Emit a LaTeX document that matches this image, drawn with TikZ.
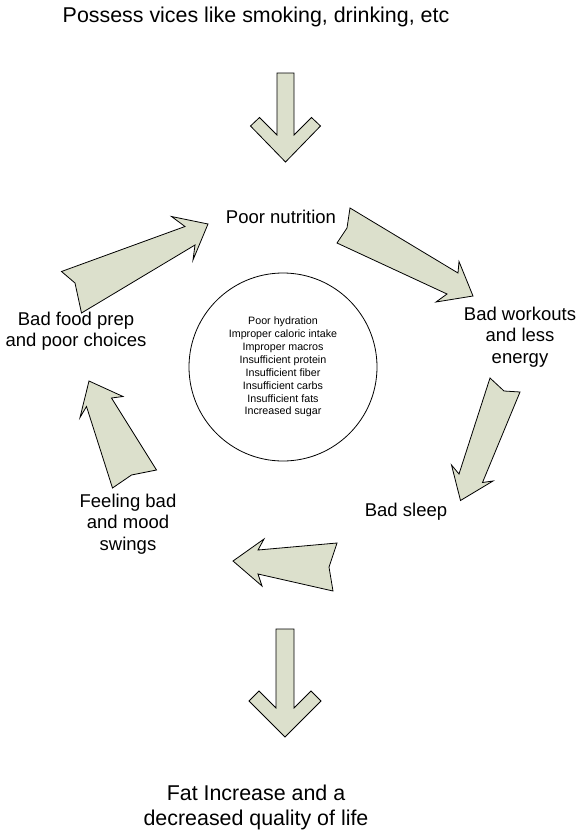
\documentclass[tikz,border=0pt]{standalone}
\usepackage{fontspec}
\setmainfont{Liberation Sans}
\definecolor{sage}{RGB}{220,224,204}
\tikzset{
  blockarrow/.style={fill=sage, draw=black, line width=0.8pt, line join=miter},
  lbl/.style={font=\fontsize{18.5}{21.3}\selectfont, align=center, inner sep=0pt},
  bigtext/.style={font=\fontsize{21.4}{25}\selectfont, align=center, inner sep=0pt},
  causes/.style={circle, draw=black, line width=0.8pt, minimum size=188pt, inner sep=0pt,
    font=\fontsize{10.7}{12.9}\selectfont, align=center}
}
\begin{document}
\begin{tikzpicture}[x=1pt,y=-1pt]
  \useasboundingbox (0,0) rectangle (582,838);

  % texts
  \node[bigtext] (vices) at (256,17) {Possess vices like smoking, drinking, etc};
  \node[lbl] (nutrition) at (281,217) {Poor nutrition};
  \node[lbl] (workouts) at (520,337) {Bad workouts\\and less\\energy};
  \node[lbl] (sleep) at (406,512) {Bad sleep};
  \node[lbl] (mood) at (128,524) {Feeling bad\\and mood\\swings};
  \node[lbl] (foodprep) at (76,331) {Bad food prep\\and poor choices};
  \node[bigtext] (result) at (256,807) {Fat Increase and a\\decreased quality of life};

  \node[causes] (list) at (283,367) {Poor hydration\\Improper caloric intake\\Improper macros\\
    Insufficient protein\\Insufficient fiber\\Insufficient carbs\\Insufficient fats\\Increased sugar};

  % block arrows
  \draw[blockarrow] (277,73) -- (294,73) -- (294,135) -- (311.5,117.5) -- (320.5,126)
    -- (285.5,162) -- (250.5,126) -- (259.5,117.5) -- (277,135) -- cycle;
  \draw[blockarrow] (350,208) -- (458,273) -- (459,261.5) -- (473,296) -- (436,302)
    -- (447,294) -- (337,243) -- (347,228) -- cycle;
  \draw[blockarrow] (490,378) -- (504,391) -- (520,392) -- (482.5,482.5) -- (493,481)
    -- (460.5,500.5) -- (451.5,465) -- (459,474) -- cycle;
  \draw[blockarrow] (337,543) -- (258,550) -- (264,539) -- (233,561) -- (262,586)
    -- (258,574) -- (333,591) -- (329,567) -- cycle;
  \draw[blockarrow] (89,381) -- (123,396.5) -- (111.5,398) -- (156.5,470) -- (131.5,475)
    -- (112.5,488) -- (86.5,406.5) -- (80,417.5) -- cycle;
  \draw[blockarrow] (61.5,271.5) -- (185,226.5) -- (171.5,216.5) -- (208,224) -- (193,260)
    -- (195,245) -- (81.5,313) -- (75,283) -- cycle;
  \draw[blockarrow] (276,629) -- (294,629) -- (294,708) -- (311,691) -- (321,701)
    -- (285,737) -- (249,701) -- (259,691) -- (276,708) -- cycle;
\end{tikzpicture}
\end{document}
